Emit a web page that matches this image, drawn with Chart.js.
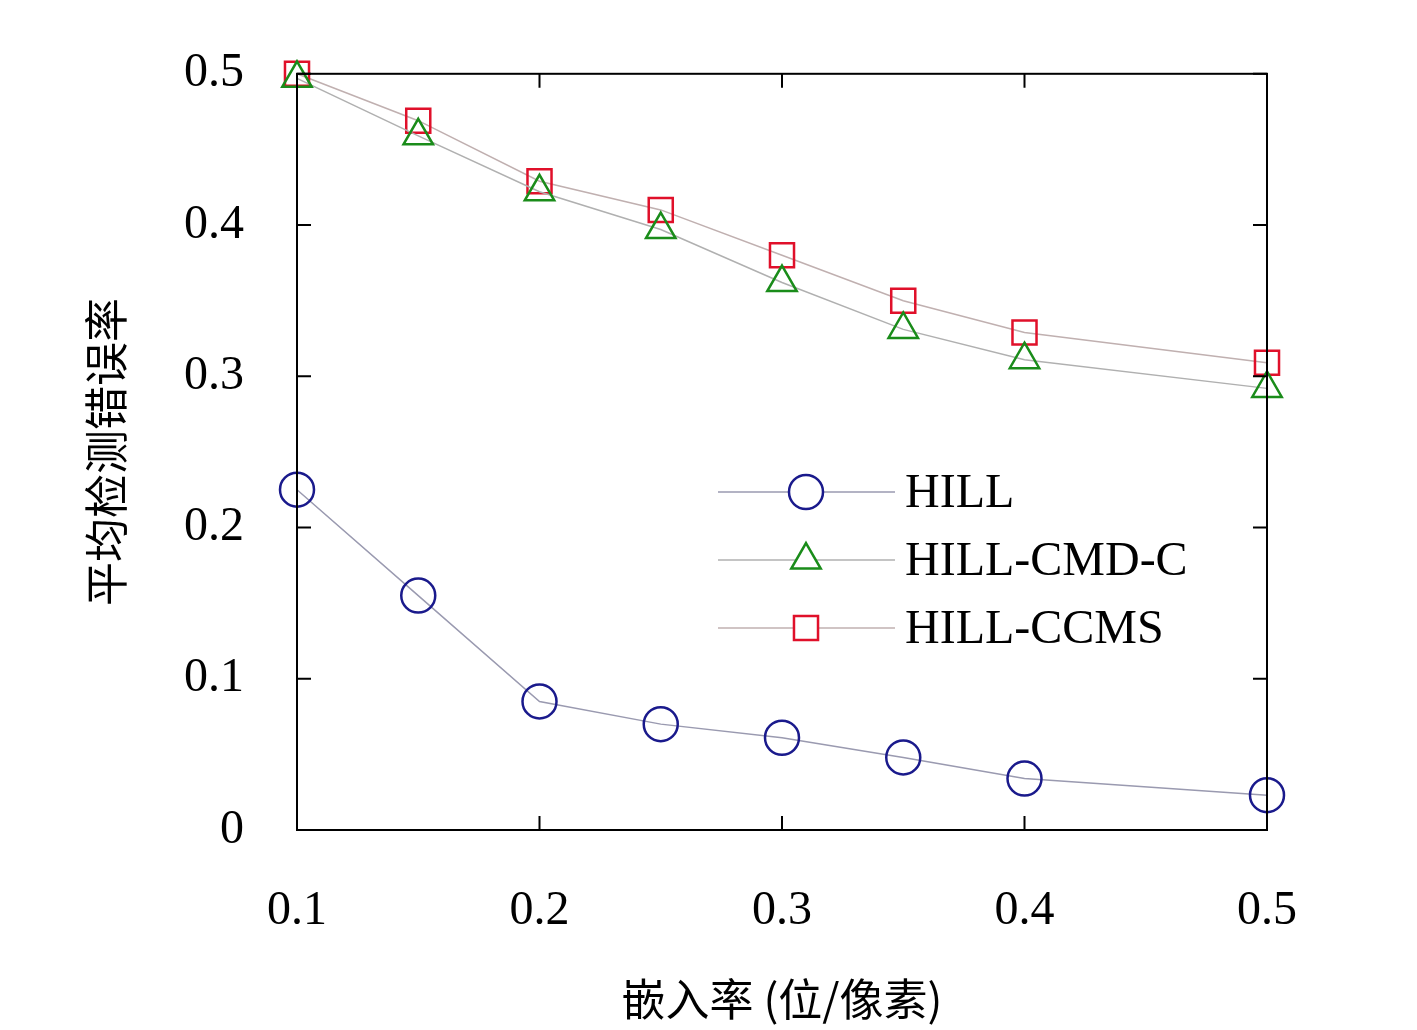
<!DOCTYPE html>
<html><head><meta charset="utf-8">
<script src="https://cdn.jsdelivr.net/npm/chart.js@4"></script>
<style>body{margin:0;background:#fff}#c{display:block}</style>
</head><body>
<div style="width:1417px;height:1030px"><canvas id="c"></canvas></div>
<script>
const rates = [0.1, 0.15, 0.2, 0.25, 0.3, 0.35, 0.4, 0.5];
const hill = [0.225, 0.155, 0.085, 0.07, 0.061, 0.048, 0.034, 0.023];
const hillCmdC = [0.497, 0.459, 0.422, 0.397, 0.362, 0.331, 0.311, 0.292];
const hillCcms = [0.5, 0.469, 0.429, 0.41, 0.38, 0.35, 0.329, 0.309];
const xTicks = [0.1, 0.2, 0.3, 0.4, 0.5];
const yTicks = [0, 0.1, 0.2, 0.3, 0.4, 0.5];

const serif = '"Liberation Serif", "DejaVu Serif", serif';
const cjk = '"Noto Sans CJK SC", sans-serif';

function series(label, ys, color, shape, line) {
  return {
    label, data: rates.map((x, i) => ({x, y: ys[i]})),
    borderColor: line, borderWidth: 1.5, pointStyle: shape,
    pointRadius: 17, pointBorderColor: color, pointBorderWidth: 2.5,
    pointBackgroundColor: 'rgba(0,0,0,0)', tension: 0, clip: false
  };
}

const frame = {
  id: 'frame',
  afterDraw(chart) {
    const {ctx, chartArea: a, scales: {x, y}} = chart;
    ctx.save();
    ctx.strokeStyle = '#000'; ctx.lineWidth = 2;
    ctx.strokeRect(a.left, a.top, a.right - a.left, a.bottom - a.top);
    const t = 14;
    ctx.beginPath();
    xTicks.forEach(v => { const p = x.getPixelForValue(v);
      ctx.moveTo(p, a.bottom); ctx.lineTo(p, a.bottom - t);
      ctx.moveTo(p, a.top); ctx.lineTo(p, a.top + t); });
    yTicks.forEach(v => { const p = y.getPixelForValue(v);
      ctx.moveTo(a.left, p); ctx.lineTo(a.left + t, p);
      ctx.moveTo(a.right, p); ctx.lineTo(a.right - t, p); });
    ctx.stroke();
    // legend
    ctx.font = '48px ' + serif; ctx.textBaseline = 'middle';
    chart.data.datasets.forEach((d, i) => {
      const yy = 492 + i * 68;
      ctx.strokeStyle = d.borderColor; ctx.lineWidth = 1.5;
      ctx.beginPath(); ctx.moveTo(718, yy); ctx.lineTo(895, yy); ctx.stroke();
      ctx.fillStyle = '#fff';
      ctx.strokeStyle = d.pointBorderColor; ctx.lineWidth = 2.5;
      Chart.helpers.drawPoint(ctx, {pointStyle: d.pointStyle, radius: 17, borderWidth: 2.5}, 806, yy);
      ctx.fillStyle = '#000';
      ctx.fillText(d.label, 905, yy + 2);
    });
    ctx.restore();
  }
};

new Chart(document.getElementById('c'), {
  type: 'line',
  data: { datasets: [
    series('HILL', hill, '#1a1a8c', 'circle', '#9a9ab0'),
    series('HILL-CMD-C', hillCmdC, '#1a8c1a', 'triangle', '#b0b0b0'),
    series('HILL-CCMS', hillCcms, '#e0102a', 'rect', '#c0b0b0')
  ]},
  options: {
    responsive: true, maintainAspectRatio: false, animation: false,
    layout: { padding: { left: 0, top: -24, right: 150, bottom: 0 } },
    plugins: { legend: { display: false }, tooltip: { enabled: false } },
    scales: {
      x: {
        type: 'linear', min: 0.1, max: 0.5,
        afterBuildTicks: s => { s.ticks = xTicks.map(v => ({value: v})); },
        afterFit: s => { s.height = 200; },
        grid: { display: false }, border: { display: false },
        ticks: { color: '#000', padding: 45, font: { family: serif, size: 48 }, callback: v => v.toFixed(1) },
        title: { display: true, text: '嵌入率 (位/像素)', color: '#000', font: { family: cjk, size: 44 }, padding: { top: 20 } }
      },
      y: {
        min: 0, max: 0.5,
        afterBuildTicks: s => { s.ticks = yTicks.map(v => ({value: v})); },
        afterFit: s => { s.width = 297; },
        grid: { display: false }, border: { display: false },
        ticks: { color: '#000', padding: 45, font: { family: serif, size: 48 }, callback: v => v === 0 ? '0' : v.toFixed(1) },
        title: { display: true, text: '平均检测错误率', color: '#000', font: { family: cjk, size: 44 }, padding: { top: 80, bottom: 10 } }
      }
    }
  },
  plugins: [frame]
});
</script>
</body></html>
